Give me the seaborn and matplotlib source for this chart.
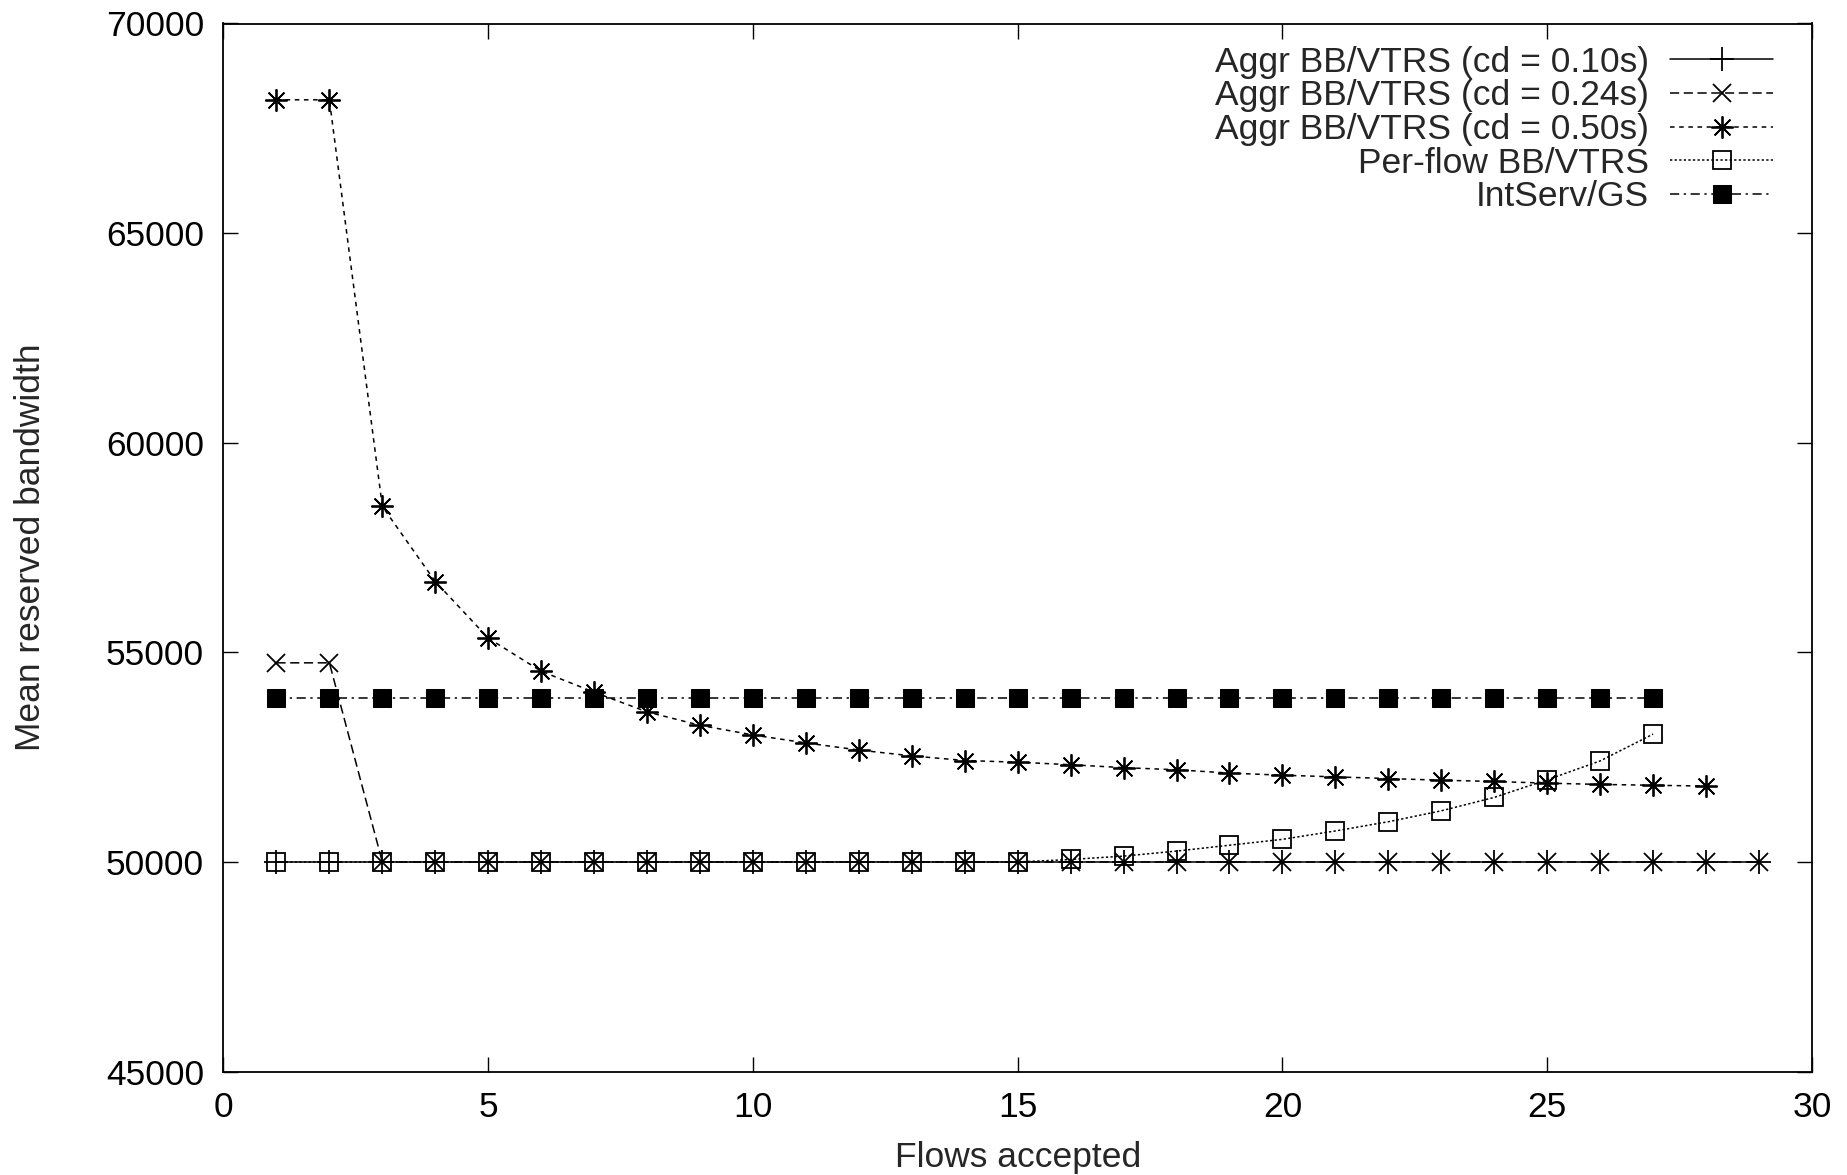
import numpy as np
import pandas as pd
import seaborn as sns
import matplotlib
matplotlib.use("Agg")
import matplotlib.pyplot as plt

# values
flows_010 = list(range(1, 30))
bw_010 = [50000] * 29

flows_024 = list(range(1, 30))
bw_024 = [54750, 54750] + [50000] * 27

flows_050 = list(range(1, 29))
bw_050 = [68180, 68180, 58480, 56690, 55340, 54550, 54050, 53580, 53260, 53030,
          52840, 52670, 52530, 52420, 52380, 52320, 52250, 52200, 52120, 52070,
          52030, 51990, 51950, 51920, 51880, 51850, 51830, 51810]

flows_pf = list(range(1, 28))
bw_pf = [50000] * 15 + [50060, 50140, 50260, 50400, 50540, 50740, 50960,
                        51220, 51540, 51960, 52410, 53050]

flows_gs = list(range(1, 28))
bw_gs = [53920] * 27

x_ticks = [0, 5, 10, 15, 20, 25, 30]
y_ticks = [45000, 50000, 55000, 60000, 65000, 70000]

sns.set_theme(style="ticks")
plt.rcParams['font.family'] = ['Liberation Sans', 'DejaVu Sans']

fig = plt.figure(figsize=(18.47, 11.75), dpi=100)
ax = fig.add_axes([0.121, 0.088, 0.86, 0.892])

fs = 25.5
lw = 1.1
k = "black"

# cd = 0.10s : solid line, plus markers
sns.lineplot(x=flows_010, y=bw_010, ax=ax, color=k, lw=lw, ls="-",
             marker="+", markersize=17, markeredgewidth=1.3, markeredgecolor=k,
             label="Aggr BB/VTRS (cd = 0.10s)")
# cd = 0.24s : long dashes, cross markers
sns.lineplot(x=flows_024, y=bw_024, ax=ax, color=k, lw=lw,
             dashes=(6, 3), marker="x", markersize=13, markeredgewidth=1.3,
             markeredgecolor=k, label="Aggr BB/VTRS (cd = 0.24s)")
# cd = 0.50s : short dashes, asterisk markers
sns.lineplot(x=flows_050, y=bw_050, ax=ax, color=k, lw=lw,
             dashes=(3, 3), marker=(8, 2, 0), markersize=16, markeredgewidth=1.3,
             markeredgecolor=k, label="Aggr BB/VTRS (cd = 0.50s)")
# per-flow : dotted, open squares
sns.lineplot(x=flows_pf, y=bw_pf, ax=ax, color=k, lw=lw,
             dashes=(1.5, 1.5), marker="s", markersize=13,
             markerfacecolor="none", markeredgecolor=k, markeredgewidth=1.3,
             label="Per-flow BB/VTRS")
# IntServ/GS : dash-dot, filled squares
sns.lineplot(x=flows_gs, y=bw_gs, ax=ax, color=k, lw=lw,
             dashes=(6, 3, 1.5, 3), marker="s", markersize=13,
             markerfacecolor=k, markeredgecolor=k,
             label="IntServ/GS")

ax.set_xlim(0, 30)
ax.set_ylim(45000, 70000)
ax.set_xticks(x_ticks)
ax.set_yticks(y_ticks)
ax.tick_params(direction="in", length=11, width=1.0, top=True, right=True,
               labelsize=fs, pad=14, colors=k)
ax.tick_params(axis="y", pad=14)
for s in ax.spines.values():
    s.set_visible(True)
    s.set_linewidth(1.3)
    s.set_color(k)

ax.set_xlabel("Flows accepted", fontsize=fs, labelpad=12)
ax.set_ylabel("Mean reserved bandwidth", fontsize=fs, labelpad=42)

leg = ax.legend(loc="upper right", bbox_to_anchor=(0.9755, 0.979), frameon=False,
                markerfirst=False, fontsize=fs, handlelength=2.9,
                labelspacing=0.02, handletextpad=0.6, borderaxespad=0,
                borderpad=0)

fig.savefig("out.png", dpi=100, facecolor="white")
